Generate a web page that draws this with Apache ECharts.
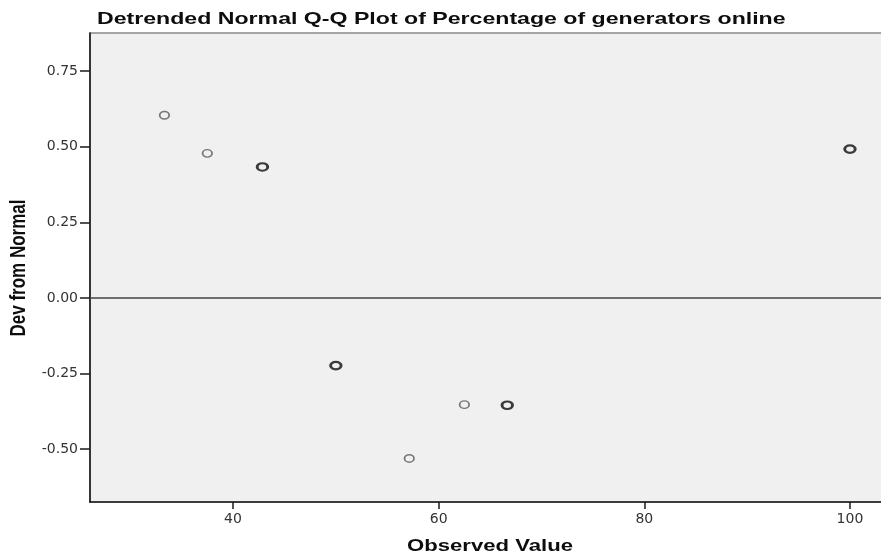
<!DOCTYPE html>
<html>
<head>
<meta charset="utf-8">
<script src="https://cdn.jsdelivr.net/npm/echarts@6/dist/echarts.min.js"></script>
<style>
  html, body { margin: 0; padding: 0; background: #ffffff; }
  #chart { width: 881px; height: 557px; }
</style>
</head>
<body>
<div id="chart"></div>
<script>
// Observed percentages and their deviation from the normal expectation
const observed = [33.33, 37.5, 42.86, 50, 57.14, 62.5, 66.67, 100];
const devFromNormal = [0.604, 0.478, 0.433, -0.224, -0.531, -0.353, -0.355, 0.492];
// number of cases sharing each observed value (repeated cases draw darker)
const caseCount = [1, 1, 2, 2, 1, 1, 2, 2];

const xTickValues = [40, 60, 80, 100];
const yTickValues = [-0.5, -0.25, 0, 0.25, 0.5, 0.75];

const chartTitle = 'Detrended Normal Q-Q Plot of Percentage of generators online';
const xName = 'Observed Value';
const yName = 'Dev from Normal';

const points = observed.map((x, i) => (caseCount[i] > 1
  ? {
      value: [x, devFromNormal[i]],
      symbolSize: [10.5, 7.5],
      itemStyle: { color: 'rgba(0,0,0,0)', borderColor: '#0d0d0d', borderWidth: 2.5 }
    }
  : {
      value: [x, devFromNormal[i]],
      symbolSize: [9.5, 7.5],
      itemStyle: { color: 'rgba(0,0,0,0)', borderColor: '#5a5a5a', borderWidth: 1.6 }
    }));

const headingFont = 'Liberation Sans, Arial, sans-serif';
const tickFont = 'DejaVu Sans, sans-serif';

const chart = echarts.init(document.getElementById('chart'), null, { renderer: 'canvas' });

chart.setOption({
  animation: false,
  backgroundColor: '#ffffff',
  // title and axis names use wide, stretched lettering
  graphic: [
    {
      type: 'text',
      x: 97,
      y: 19,
      scaleX: 1.36,
      style: {
        text: chartTitle,
        fontFamily: headingFont,
        fontWeight: 'bold',
        fontSize: 17,
        fill: '#0d0d0d',
        align: 'left',
        verticalAlign: 'middle'
      }
    },
    {
      type: 'text',
      x: 490,
      y: 546,
      scaleX: 1.3,
      style: {
        text: xName,
        fontFamily: headingFont,
        fontWeight: 'bold',
        fontSize: 17,
        fill: '#0d0d0d',
        align: 'center',
        verticalAlign: 'middle'
      }
    },
    {
      type: 'text',
      x: 18.5,
      y: 268,
      rotation: Math.PI / 2,
      scaleY: 1.3,
      style: {
        text: yName,
        fontFamily: headingFont,
        fontWeight: 'bold',
        fontSize: 17,
        fill: '#0d0d0d',
        align: 'center',
        verticalAlign: 'middle'
      }
    }
  ],
  grid: {
    left: 90,
    top: 33,
    width: 801,
    height: 469,
    outerBoundsMode: 'none',
    containLabel: false,
    show: true,
    backgroundColor: '#f0f0f0',
    borderColor: '#8a8a8a',
    borderWidth: 1.5
  },
  xAxis: {
    type: 'value',
    min: 26.09,
    max: 103.99,
    axisLine: { show: true, onZero: false, lineStyle: { color: '#1a1a1a', width: 1.6 } },
    axisTick: { show: true, length: 7, customValues: xTickValues, lineStyle: { color: '#1a1a1a', width: 1.5 } },
    axisLabel: {
      customValues: xTickValues,
      margin: 10,
      fontFamily: tickFont,
      fontSize: 14,
      color: '#333333'
    },
    splitLine: { show: false }
  },
  yAxis: {
    type: 'value',
    min: -0.675,
    max: 0.876,
    axisLine: { show: true, onZero: false, lineStyle: { color: '#1a1a1a', width: 1.6 } },
    axisTick: { show: true, length: 10, customValues: yTickValues, lineStyle: { color: '#1a1a1a', width: 1.5 } },
    axisLabel: {
      customValues: yTickValues,
      margin: 12,
      formatter: v => v.toFixed(2),
      fontFamily: tickFont,
      fontSize: 14,
      color: '#333333'
    },
    splitLine: { show: false }
  },
  series: [{
    type: 'scatter',
    symbol: 'circle',
    data: points,
    markLine: {
      silent: true,
      symbol: 'none',
      label: { show: false },
      lineStyle: { color: '#444444', width: 1.5, type: 'solid' },
      data: [{ yAxis: 0 }]
    }
  }]
});
</script>
</body>
</html>
